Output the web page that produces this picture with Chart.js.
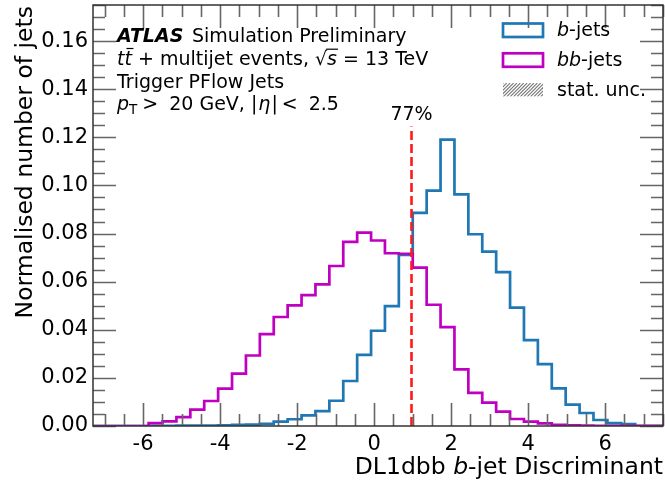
<!DOCTYPE html>
<html>
<head>
<meta charset="utf-8">
<script src="https://cdn.jsdelivr.net/npm/chart.js@4.4.0/dist/chart.umd.min.js"></script>
<style>
  body { margin: 0; background: #fff; }
  canvas { display: block; }
</style>
</head>
<body>
<canvas id="grafico" width="665" height="486"></canvas>
<script>
// DADOS - bordas dos bins (41 bins) e valores normalizados
const binEdges = [
  -7.300, -6.939, -6.578, -6.217, -5.856, -5.495, -5.134, -4.773, -4.412, -4.051,
  -3.690, -3.329, -2.968, -2.607, -2.246, -1.885, -1.524, -1.163, -0.802, -0.441,
  -0.080, 0.280, 0.641, 1.002, 1.363, 1.724, 2.085, 2.446, 2.807, 3.168,
  3.529, 3.890, 4.251, 4.612, 4.973, 5.334, 5.695, 6.056, 6.417, 6.778,
  7.139, 7.500
];
const bJets = [
  0, 0, 0, 0, 0.0001, 0.0001, 0.0002, 0.0002, 0.0002, 0.0003,
  0.0005, 0.0006, 0.0009, 0.0018, 0.0028, 0.0044, 0.0062, 0.0105, 0.0187, 0.0296,
  0.0396, 0.0498, 0.0711, 0.0886, 0.0978, 0.1190, 0.0963, 0.0797, 0.0725, 0.0640,
  0.0492, 0.0357, 0.0257, 0.0156, 0.0089, 0.0054, 0.0025, 0.0012, 0.0008, 0,
  0
];
const bbJets = [
  0, 0, 0, 0, 0.0012, 0.0019, 0.0037, 0.0068, 0.0104, 0.0155,
  0.0218, 0.0293, 0.0382, 0.0453, 0.0501, 0.0544, 0.0589, 0.0665, 0.0765, 0.0804,
  0.0771, 0.0718, 0.0716, 0.0658, 0.0504, 0.0411, 0.0235, 0.0138, 0.0097, 0.0060,
  0.0029, 0.0018, 0.0011, 0.0005, 0.0003, 0.0002, 0.0001, 0.0001, 0.0001, 0.0001,
  0.0001
];
const xTicks = [-6, -4, -2, 0, 2, 4, 6];
const yTicks = [0, 0.02, 0.04, 0.06, 0.08, 0.10, 0.12, 0.14, 0.16];
const wpCut = 0.97;   // corte do ponto de trabalho
const wpTop = 0.1245;
const wpLabel = "77%";

const corB = "#1f77b4";
const corBB = "#c000c0";
const FAMILIA = '"DejaVu Sans"';

// monta o contorno em degraus (histtype step)
function degraus(valores) {
  const pts = [{ x: binEdges[0], y: 0 }];
  valores.forEach((v, i) => pts.push({ x: binEdges[i], y: v }));
  const ult = binEdges[binEdges.length - 1];
  pts.push({ x: ult, y: valores[valores.length - 1] });
  pts.push({ x: ult, y: 0 });
  return pts;
}

// escreve pedaços de texto com fontes diferentes
function texto(ctx, partes, x, y) {
  partes.forEach((p) => {
    ctx.font = p.f;
    ctx.fillText(p.t, x, y);
    x += ctx.measureText(p.t).width;
  });
  return x;
}

function largura(ctx, partes) {
  let w = 0;
  partes.forEach((p) => { ctx.font = p.f; w += ctx.measureText(p.t).width; });
  return w;
}

const REG = "19px " + FAMILIA;
const IT = "italic 19px " + FAMILIA;
const BI = "italic bold 19px " + FAMILIA;
const TIT = "23.5px " + FAMILIA;
const TIT_IT = "italic 23.5px " + FAMILIA;

// PLUGIN: bordas, ticks para dentro, textos e legenda
const eixosPlugin = {
  id: "eixos",
  afterDraw(chart) {
    const ctx = chart.ctx;
    const a = chart.chartArea;
    const sx = chart.scales.x;
    const sy = chart.scales.y;
    ctx.save();

    // ticks (todos os lados, para dentro)
    ctx.strokeStyle = "#666";
    ctx.lineWidth = 1.6;
    ctx.beginPath();
    for (let v = -7; v <= 7.5; v += 0.5) {
      const px = Math.round(sx.getPixelForValue(v)) + 0.5;
      const len = xTicks.includes(v) ? 23 : 12;
      ctx.moveTo(px, a.bottom); ctx.lineTo(px, a.bottom - len);
      ctx.moveTo(px, a.top); ctx.lineTo(px, a.top + len);
    }
    for (let i = 0; i <= 35; i++) {
      const v = i * 0.005;
      const py = Math.round(sy.getPixelForValue(v)) + 0.5;
      const len = i % 4 === 0 ? 23 : 12;
      ctx.moveTo(a.left, py); ctx.lineTo(a.left + len, py);
      ctx.moveTo(a.right, py); ctx.lineTo(a.right - len, py);
    }
    ctx.stroke();

    // moldura
    ctx.strokeStyle = "#333";
    ctx.lineWidth = 1.5;
    ctx.strokeRect(a.left, a.top, a.right - a.left, a.bottom - a.top);

    ctx.fillStyle = "#000";
    ctx.textAlign = "left";
    ctx.textBaseline = "alphabetic";

    // bloco ATLAS
    texto(ctx, [{ t: "ATLAS", f: BI }], 117, 42);
    texto(ctx, [{ t: "Simulation Preliminary", f: REG }], 192, 42);

    // linha 2: tt̄ + multijet events, √s = 13 TeV
    const y2 = 64.5;
    let x = texto(ctx, [{ t: "t", f: IT }], 117, y2);
    const xt = x;
    x = texto(ctx, [{ t: "t", f: IT }], x, y2);
    ctx.strokeStyle = "#000";
    ctx.lineWidth = 1.2;
    ctx.beginPath();
    ctx.moveTo(xt + 2, 48.5); ctx.lineTo(xt + 9, 48.5);
    ctx.stroke();
    x = texto(ctx, [{ t: " + multijet events, ", f: REG }], x, y2);
    x = texto(ctx, [{ t: "\u221A", f: REG }], x, y2);
    const xs = x;
    x = texto(ctx, [{ t: "s", f: IT }], x, y2);
    ctx.beginPath();
    ctx.moveTo(xs - 1, 49.2); ctx.lineTo(x + 1, 49.2);
    ctx.stroke();
    texto(ctx, [{ t: " = 13 TeV", f: REG }], x, y2);

    texto(ctx, [{ t: "Trigger PFlow Jets", f: REG }], 117, 87.5);

    // linha 4: pT > 20 GeV, |η| < 2.5
    const y4 = 110;
    x = texto(ctx, [{ t: "p", f: IT }], 117, y4);
    x = texto(ctx, [{ t: "T", f: "13.5px " + FAMILIA }], x, y4 + 4);
    x = texto(ctx, [{ t: ">", f: REG }], x + 5, y4);
    x = texto(ctx, [{ t: "20 GeV, |", f: REG }], x + 11, y4);
    x = texto(ctx, [{ t: "\u03B7", f: IT }], x + 1, y4);
    x = texto(ctx, [{ t: "|", f: REG }], x + 1, y4);
    x = texto(ctx, [{ t: "<", f: REG }], x + 4, y4);
    texto(ctx, [{ t: "2.5", f: REG }], x + 11, y4);

    // rótulo do ponto de trabalho
    ctx.font = REG;
    ctx.textAlign = "center";
    ctx.fillText(wpLabel, sx.getPixelForValue(wpCut), sy.getPixelForValue(wpTop) - 6);
    ctx.textAlign = "left";

    // legenda
    const itens = [
      { cor: corB, partes: [{ t: "b", f: IT }, { t: "-jets", f: REG }] },
      { cor: corBB, partes: [{ t: "bb", f: IT }, { t: "-jets", f: REG }] },
      { cor: null, partes: [{ t: "stat. unc.", f: REG }] }
    ];
    itens.forEach((it, i) => {
      const top = 23.5 + i * 29.8;
      if (it.cor) {
        ctx.strokeStyle = it.cor;
        ctx.lineWidth = 2.7;
        ctx.strokeRect(503, top, 40, 13.5);
      } else {
        ctx.save();
        ctx.beginPath();
        ctx.rect(503, top, 40, 13.5);
        ctx.clip();
        ctx.strokeStyle = "#777";
        ctx.lineWidth = 1.1;
        ctx.beginPath();
        for (let k = -20; k < 60; k += 3.4) {
          ctx.moveTo(503 + k, top + 13.5);
          ctx.lineTo(503 + k + 13.5, top);
        }
        ctx.stroke();
        ctx.restore();
      }
      ctx.fillStyle = "#000";
      texto(ctx, it.partes, 557, top + 12.7);
    });

    // títulos dos eixos (ATLAS: no canto)
    const tx = [{ t: "DL1dbb ", f: TIT }, { t: "b", f: TIT_IT }, { t: "-jet Discriminant", f: TIT }];
    texto(ctx, tx, a.right - largura(ctx, tx), 474);

    ctx.save();
    ctx.translate(32, a.top + 1);
    ctx.rotate(-Math.PI / 2);
    ctx.font = TIT;
    ctx.textAlign = "right";
    ctx.fillText("Normalised number of jets", 0, 0);
    ctx.restore();

    ctx.restore();
  }
};

const fonteTicks = { family: FAMILIA, size: 21 };

const grafico = new Chart(document.getElementById("grafico"), {
  type: "line",
  data: {
    datasets: [
      {
        label: "bb-jets",
        data: degraus(bbJets),
        borderColor: corBB,
        borderWidth: 2.7,
        stepped: true,
        pointRadius: 0,
        fill: false,
        order: 1,
      },
      {
        label: "b-jets",
        data: degraus(bJets),
        borderColor: corB,
        borderWidth: 2.7,
        stepped: true,
        pointRadius: 0,
        fill: false,
        order: 2,
      },
      {
        label: wpLabel,
        data: [{ x: wpCut, y: 0 }, { x: wpCut, y: wpTop }],
        borderColor: "#ff1a1a",
        borderWidth: 2.6,
        borderDash: [9, 4],
        pointRadius: 0,
        fill: false,
        order: 0,
      },
    ],
  },
  options: {
    responsive: false,
    animation: false,
    devicePixelRatio: 1,
    layout: { padding: { top: 5, right: 2, left: 0, bottom: 0 } },
    plugins: { legend: { display: false }, tooltip: { enabled: false } },
    scales: {
      x: {
        type: "linear",
        min: -7.3,
        max: 7.5,
        afterBuildTicks: (s) => { s.ticks = xTicks.map((v) => ({ value: v })); },
        afterFit: (s) => { s.height = 60; s.paddingLeft = 0; s.paddingRight = 0; },
        grid: { display: false, drawTicks: false },
        border: { display: false },
        ticks: { font: fonteTicks, color: "#000", padding: 6, maxRotation: 0, autoSkip: false, callback: (v) => String(v) },
      },
      y: {
        type: "linear",
        min: 0,
        max: 0.175,
        afterBuildTicks: (s) => { s.ticks = yTicks.map((v) => ({ value: v })); },
        afterFit: (s) => { s.width = 93; s.paddingTop = 0; s.paddingBottom = 0; },
        grid: { display: false, drawTicks: false },
        border: { display: false },
        ticks: { font: fonteTicks, color: "#000", padding: 5, autoSkip: false, callback: (v) => v.toFixed(2) },
      },
    },
  },
  plugins: [eixosPlugin],
});
</script>
</body>
</html>
